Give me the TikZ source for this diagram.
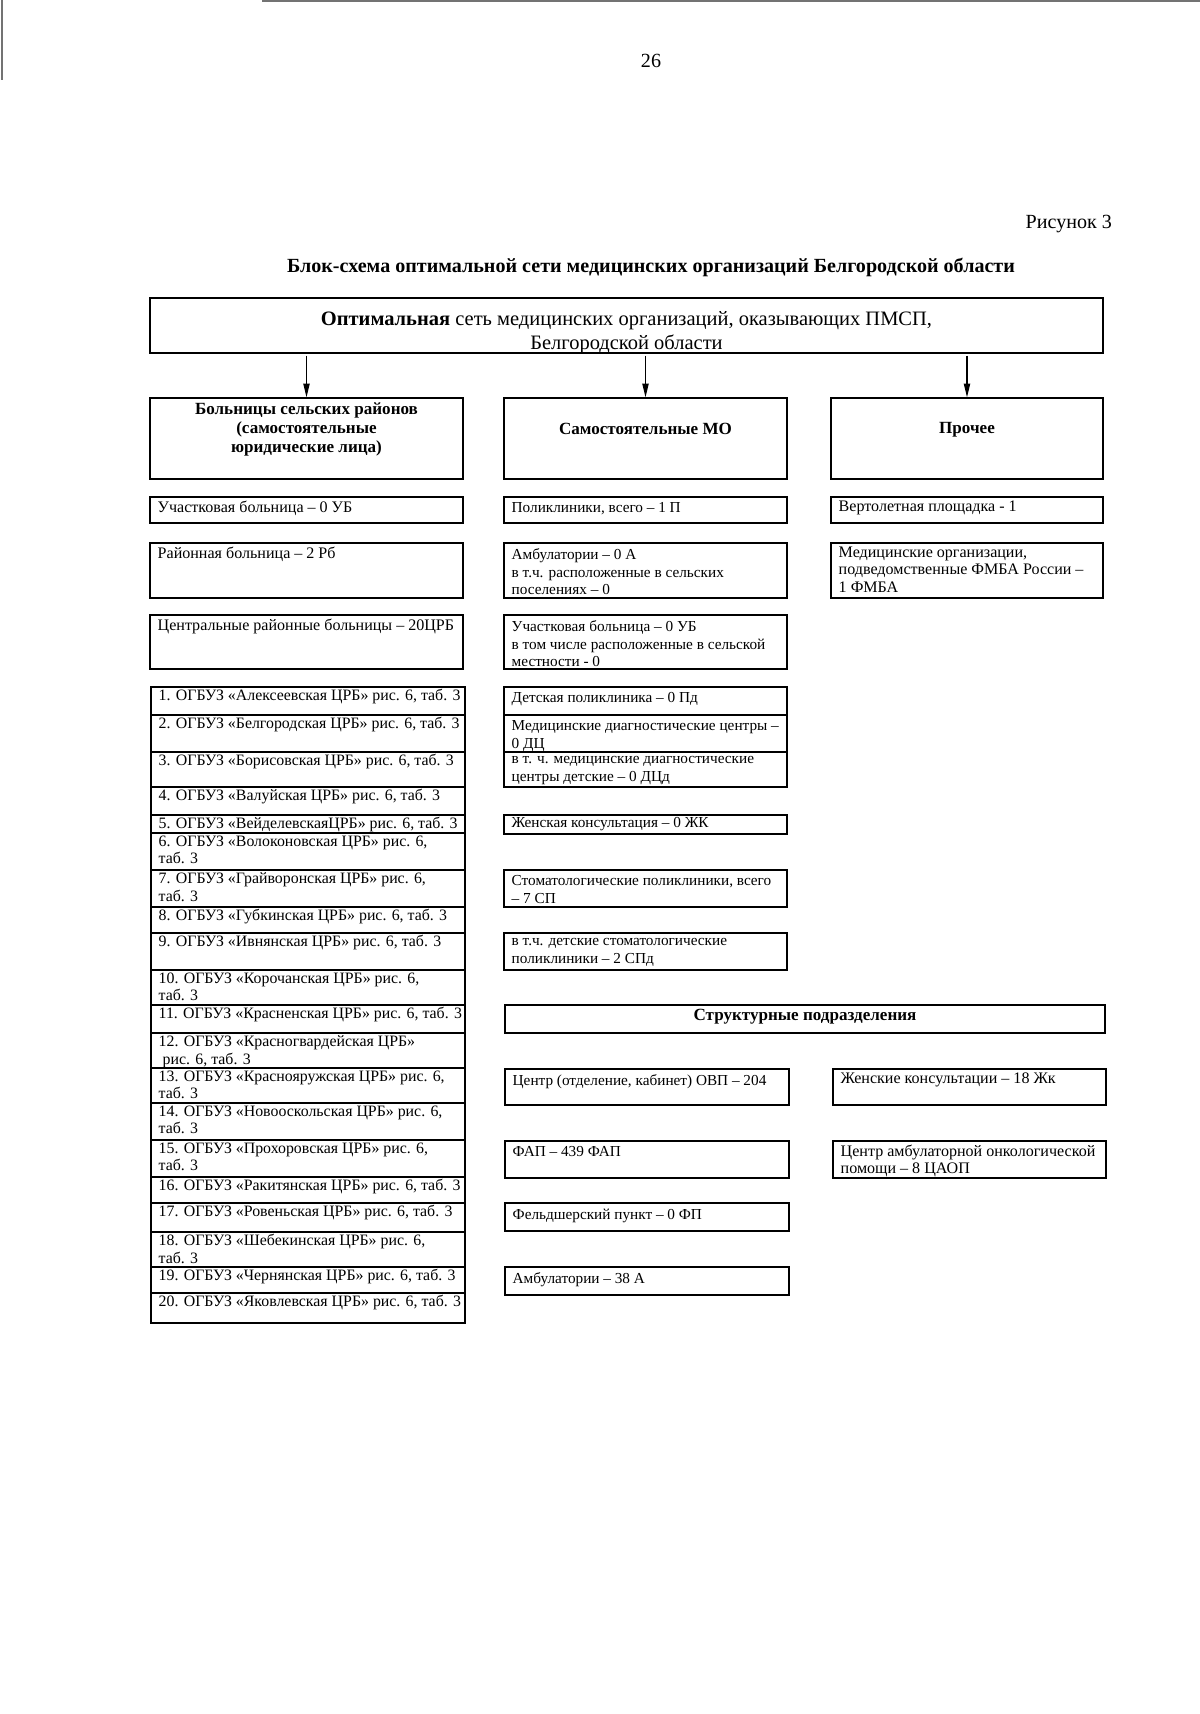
\documentclass[tikz,border=0pt]{standalone}
\usepackage{fontspec}
\setmainfont{Liberation Serif}
\usepackage{tikz}
\usetikzlibrary{positioning, arrows.meta, fit}

\begin{document}
\begin{tikzpicture}[
        x=0.0175cm, y=-0.0175cm,
        cell/.style={draw=black, line width=0.7pt, inner sep=0pt},
        celltxt/.style={anchor=north west, align=left, inner sep=0pt, xshift=0.14cm, yshift=-0.07cm, font=\fontsize{8}{8.8}\selectfont},
        midtxt/.style={celltxt, yshift=-0.035cm, font=\fontsize{7.6}{8.8}\selectfont},
        hdrtxt/.style={anchor=center, align=center, inner sep=0pt, yshift=0.16cm, font=\bfseries\fontsize{8.5}{9.6}\selectfont},
        arrow/.style={-{Triangle[length=2.4mm, width=1.1mm]}, line width=0.6pt, shorten <=1pt}
    ]
    \useasboundingbox (0,0) rectangle (1200,1714);

    % scan edges
    \draw[black!55, line width=0.8pt] (262,1) -- (1200,1);
    \draw[black!55, line width=0.5pt] (2,0) -- (2,80);

    \node[font=\fontsize{10}{12}\selectfont] (page) at (651,61) {26};
    \node[anchor=east, font=\fontsize{10}{12}\selectfont] (fig) at (1119,224) {Рисунок 3};
    \node[font=\bfseries\fontsize{10}{12}\selectfont] (title) at (651,267) {Блок-схема оптимальной сети медицинских организаций Белгородской области};

    % top level
    \node[cell, fit={(150,298) (1103,353)}, label={[anchor=center, align=center, inner sep=0pt, yshift=-0.12cm, font=\fontsize{10.2}{11.9}\selectfont]center:\textbf{Оптимальная} сеть медицинских организаций, оказывающих ПМСП,\\Белгородской области}] (top) {};

    % column heads
    \node[cell, fit={(150,398) (463,479)}, label={[hdrtxt]center:Больницы сельских районов\\(самостоятельные\\юридические лица)}] (hl) {};
    \node[cell, fit={(504,398) (787,479)}, label={[hdrtxt]center:Самостоятельные МО}] (hm) {};
    \node[cell, fit={(831,398) (1103,479)}, label={[hdrtxt]center:Прочее}] (hr) {};

    \draw[arrow] (top.south -| hl.north) -- (hl.north);
    \draw[arrow] (top.south -| hm.north) -- (hm.north);
    \draw[arrow] (top.south -| hr.north) -- (hr.north);

    % rural hospitals
    \node[cell, fit={(150,497) (463,523)}, label={[celltxt]north west:Участковая больница – 0 УБ}] (l1) {};
    \node[cell, fit={(150,543) (463,598)}, label={[celltxt]north west:Районная больница – 2 Рб}] (l2) {};
    \node[cell, fit={(150,615) (463,669)}, label={[celltxt]north west:Центральные районные больницы – 20ЦРБ}] (l3) {};

    \foreach \i/\ya/\yb/\lbl in {
        1/687/715/{1. ОГБУЗ «Алексеевская ЦРБ» рис. 6, таб. 3},
        2/715/752/{2. ОГБУЗ «Белгородская ЦРБ» рис. 6, таб. 3},
        3/752/787/{3. ОГБУЗ «Борисовская ЦРБ» рис. 6, таб. 3},
        4/787/815/{4. ОГБУЗ «Валуйская ЦРБ» рис. 6, таб. 3},
        5/815/833/{5. ОГБУЗ «ВейделевскаяЦРБ» рис. 6, таб. 3},
        6/833/870/{6. ОГБУЗ «Волоконовская ЦРБ» рис. 6,\\таб. 3},
        7/870/907/{7. ОГБУЗ «Грайворонская ЦРБ» рис. 6,\\таб. 3},
        8/907/933/{8. ОГБУЗ «Губкинская ЦРБ» рис. 6, таб. 3},
        9/933/970/{9. ОГБУЗ «Ивнянская ЦРБ» рис. 6, таб. 3},
        10/970/1005/{10. ОГБУЗ «Корочанская ЦРБ» рис. 6,\\таб. 3},
        11/1005/1033/{11. ОГБУЗ «Красненская ЦРБ» рис. 6, таб. 3},
        12/1033/1068/{12. ОГБУЗ «Красногвардейская ЦРБ»\\\hspace{2pt}рис. 6, таб. 3},
        13/1068/1103/{13. ОГБУЗ «Краснояружская ЦРБ» рис. 6,\\таб. 3},
        14/1103/1140/{14. ОГБУЗ «Новооскольская ЦРБ» рис. 6,\\таб. 3},
        15/1140/1177/{15. ОГБУЗ «Прохоровская ЦРБ» рис. 6,\\таб. 3},
        16/1177/1203/{16. ОГБУЗ «Ракитянская ЦРБ» рис. 6, таб. 3},
        17/1203/1232/{17. ОГБУЗ «Ровеньская ЦРБ» рис. 6, таб. 3},
        18/1232/1267/{18. ОГБУЗ «Шебекинская ЦРБ» рис. 6,\\таб. 3},
        19/1267/1293/{19. ОГБУЗ «Чернянская ЦРБ» рис. 6, таб. 3},
        20/1293/1323/{20. ОГБУЗ «Яковлевская ЦРБ» рис. 6, таб. 3}}
        \node[cell, fit={(151,\ya) (465,\yb)}, label={[celltxt, yshift=0.02cm, font=\fontsize{7.9}{8.8}\selectfont]north west:\lbl}] (crb\i) {};

    % independent MO
    \node[cell, fit={(504,497) (787,523)}, label={[midtxt]north west:Поликлиники, всего – 1 П}] (m1) {};
    \node[cell, fit={(504,543) (787,598)}, label={[midtxt]north west:Амбулатории – 0 А\\в т.ч. расположенные в сельских\\поселениях – 0}] (m2) {};
    \node[cell, fit={(504,615) (787,669)}, label={[midtxt]north west:Участковая больница – 0 УБ\\в том числе расположенные в сельской\\местности - 0}] (m3) {};
    \node[cell, fit={(504,687) (787,715)}, label={[midtxt]north west:Детская поликлиника – 0 Пд}] (m4) {};
    \node[cell, fit={(504,715) (787,752)}, label={[midtxt]north west:Медицинские диагностические центры –\\0 ДЦ}] (m5) {};
    \node[cell, fit={(504,752) (787,787)}, label={[midtxt, yshift=0.02cm]north west:в т. ч. медицинские диагностические\\центры детские – 0 ДЦд}] (m6) {};
    \node[cell, fit={(504,815) (787,834)}, label={[midtxt, yshift=0.05cm]north west:Женская консультация – 0 ЖК}] (m7) {};
    \node[cell, fit={(504,870) (787,907)}, label={[midtxt]north west:Стоматологические поликлиники, всего\\– 7 СП}] (m8) {};
    \node[cell, fit={(504,933) (787,970)}, label={[midtxt]north west:в т.ч. детские стоматологические\\поликлиники – 2 СПд}] (m9) {};

    % other
    \node[cell, fit={(831,497) (1103,523)}, label={[celltxt]north west:Вертолетная площадка - 1}] (r1) {};
    \node[cell, fit={(831,543) (1103,598)}, label={[celltxt]north west:Медицинские организации,\\подведомственные ФМБА России –\\1 ФМБА}] (r2) {};

    % structural units
    \node[cell, fit={(505,1005) (1105,1033)}, label={[anchor=north, inner sep=0pt, yshift=-0.07cm, font=\bfseries\fontsize{8.5}{9.6}\selectfont]north:Структурные подразделения}] (su) {};
    \node[cell, fit={(505,1069) (789,1105)}, label={[midtxt]north west:Центр (отделение, кабинет) ОВП – 204}] (su1) {};
    \node[cell, fit={(505,1141) (789,1178)}, label={[midtxt]north west:ФАП – 439 ФАП}] (su2) {};
    \node[cell, fit={(505,1203) (789,1231)}, label={[midtxt]north west:Фельдшерский пункт – 0 ФП}] (su3) {};
    \node[cell, fit={(505,1267) (789,1295)}, label={[midtxt]north west:Амбулатории – 38 А}] (su4) {};
    \node[cell, fit={(833,1069) (1106,1105)}, label={[celltxt]north west:Женские консультации – 18 Жк}] (su5) {};
    \node[cell, fit={(833,1141) (1106,1178)}, label={[celltxt]north west:Центр амбулаторной онкологической\\помощи – 8 ЦАОП}] (su6) {};

\end{tikzpicture}
\end{document}
